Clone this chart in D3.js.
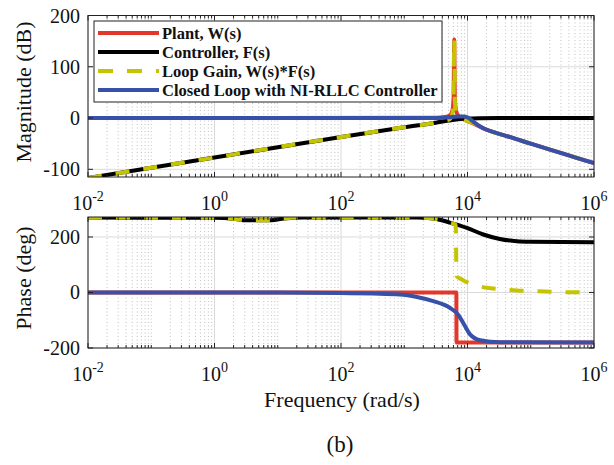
<!DOCTYPE html>
<html>
   <head>
      <script src = "https://d3js.org/d3.v7.min.js"></script>
      <title> Bode </title>
      <style>
          body { margin: 0; background: #fff; }
          .svg-style { display: block; }
          text { font-family: "Liberation Serif", "Times New Roman", serif; fill: #111; }
      </style>
   </head>
   <body>
      <script>
            // frequencies are stored as log10(w)
            var plantMag = [[-2, 0], [3.5, 0.5], [3.65, 2], [3.72, 5], [3.76, 14], [3.78, 40], [3.79, 153], [3.80, 40],
                            [3.82, 14], [3.86, 4], [3.93, -2], [4.0, -6], [4.1, -11], [4.25, -20], [4.45, -29],
                            [4.64, -36], [5, -50], [5.5, -69], [6, -88]];
            var ctrlMag = [[-2, -117], [0, -77], [2, -37], [3, -18], [3.5, -9], [3.7, -5], [3.85, -2.5], [4.0, -1],
                           [4.2, -0.3], [4.5, 0], [6, 0]];
            var loopMag = [[-2, -117], [0, -77], [2, -37], [3, -18], [3.5, -9], [3.65, -5], [3.72, -2], [3.76, 8],
                           [3.78, 35], [3.79, 153], [3.80, 35], [3.82, 8], [3.86, 0], [3.93, -3], [4.0, -6],
                           [4.1, -10], [4.25, -20], [4.45, -29], [4.64, -36], [5, -50], [5.5, -69], [6, -88]];
            var closedMag = [[-2, 0], [3.5, 0], [3.7, 1.5], [3.85, 3], [3.95, 3], [4.02, 0], [4.1, -8], [4.25, -20],
                             [4.45, -29], [4.64, -36], [5, -50], [5.5, -69], [6, -88]];

            var plantPhase = [[-2, 0], [3.824, 0], [3.826, -180], [6, -180]];
            var ctrlPhase = [[-2, 270], [0, 269], [0.3, 266], [0.5, 260], [0.9, 260], [1.1, 267], [1.4, 270],
                             [3.2, 270], [3.46, 267], [3.72, 252], [3.99, 233], [4.25, 209], [4.51, 193],
                             [4.78, 185], [5, 183], [6, 181]];
            var loopPhase = [[-2, 270], [0, 269], [0.3, 266], [0.5, 260], [0.9, 260], [1.1, 267], [1.4, 270],
                             [3.2, 270], [3.46, 267], [3.72, 252], [3.815, 244], [3.826, 60], [3.91, 47],
                             [4.14, 25], [4.30, 17], [4.56, 11], [4.78, 7], [5.0, 5], [5.5, 1.5], [6, 0]];
            var closedPhase = [[-2, 0], [1, 0], [2, -2], [2.5, -4], [2.93, -7], [3.2, -16], [3.46, -31], [3.72, -55],
                               [3.85, -79], [3.96, -121], [4.04, -151], [4.2, -172], [4.51, -179], [6, -180]];

            var xTicks = [1e-2, 1e0, 1e2, 1e4, 1e6];
            var magTicks = [-100, 0, 100, 200];
            var phaseTicks = [-200, 0, 200];
            var legendNames = ["Plant, W(s)", "Controller, F(s)", "Loop Gain, W(s)*F(s)", "Closed Loop with NI-RLLC Controller"];
            var colors = ["#e1382b", "#000000", "#c4c400", "#3751a8"];

            var width = 614, height = 465;
            var left = 88, right = 594;
            var svg = d3.select("body")
                .append("svg")
                .attr("width", width)
                .attr("height", height)
                .attr("class", "svg-style");

            var x = d3.scaleLog().domain([1e-2, 1e6]).range([left, right]);
            var yMag = d3.scaleLinear().domain([-115, 200]).range([177, 15.5]);
            var yPh = d3.scaleLinear().domain([-200, 272]).range([348, 217]);

            // minor log positions 1..9 in each decade
            var minor = [];
            d3.range(-2, 6).forEach(function(e) {
                d3.range(1, 10).forEach(function(m) {
                    var v = m * Math.pow(10, e);
                    if (xTicks.indexOf(v) < 0) minor.push(v);
                });
            });

            function panel(y, yTicks, series, id) {
                var top = y.range()[1], bot = y.range()[0];
                var g = svg.append("g");

                g.append("rect").attr("x", left).attr("y", top).attr("width", right - left).attr("height", bot - top)
                    .attr("fill", "#fff");

                // grid
                g.selectAll(".mg").data(minor).enter().append("line")
                    .attr("x1", function(d) { return x(d); }).attr("x2", function(d) { return x(d); })
                    .attr("y1", top).attr("y2", bot)
                    .attr("stroke", "#c2c2c2").attr("stroke-width", 1).attr("stroke-dasharray", "1,2.5");
                g.selectAll(".xg").data(xTicks).enter().append("line")
                    .attr("x1", function(d) { return x(d); }).attr("x2", function(d) { return x(d); })
                    .attr("y1", top).attr("y2", bot)
                    .attr("stroke", "#dadada").attr("stroke-width", 1);
                g.selectAll(".yg").data(yTicks).enter().append("line")
                    .attr("x1", left).attr("x2", right)
                    .attr("y1", function(d) { return y(d); }).attr("y2", function(d) { return y(d); })
                    .attr("stroke", "#dadada").attr("stroke-width", 1);

                // curves
                svg.append("clipPath").attr("id", id).append("rect")
                    .attr("x", left).attr("y", top).attr("width", right - left).attr("height", bot - top);
                var line = d3.line()
                    .x(function(d) { return x(Math.pow(10, d[0])); })
                    .y(function(d) { return y(d[1]); })
                    .curve(d3.curveMonotoneX);
                series.forEach(function(s, i) {
                    g.append("path")
                        .attr("d", line(s))
                        .attr("clip-path", "url(#" + id + ")")
                        .attr("fill", "none")
                        .attr("stroke", colors[i])
                        .attr("stroke-width", 4)
                        .attr("stroke-linejoin", "round")
                        .attr("stroke-dasharray", i == 2 ? "14,14" : null);
                });

                // ticks, inward on all sides
                [[top, 1], [bot, -1]].forEach(function(p) {
                    g.selectAll(null).data(minor).enter().append("line")
                        .attr("x1", function(d) { return x(d); }).attr("x2", function(d) { return x(d); })
                        .attr("y1", p[0]).attr("y2", p[0] + 3 * p[1])
                        .attr("stroke", "#222").attr("stroke-width", 1);
                    g.selectAll(null).data(xTicks).enter().append("line")
                        .attr("x1", function(d) { return x(d); }).attr("x2", function(d) { return x(d); })
                        .attr("y1", p[0]).attr("y2", p[0] + 5 * p[1])
                        .attr("stroke", "#222").attr("stroke-width", 1);
                });
                [[left, 1], [right, -1]].forEach(function(p) {
                    g.selectAll(null).data(yTicks).enter().append("line")
                        .attr("x1", p[0]).attr("x2", p[0] + 5 * p[1])
                        .attr("y1", function(d) { return y(d); }).attr("y2", function(d) { return y(d); })
                        .attr("stroke", "#222").attr("stroke-width", 1);
                });

                g.append("rect").attr("x", left).attr("y", top).attr("width", right - left).attr("height", bot - top)
                    .attr("fill", "none").attr("stroke", "#222").attr("stroke-width", 1);

                // tick labels
                g.selectAll(null).data(yTicks).enter().append("text")
                    .attr("x", left - 8).attr("y", function(d) { return y(d) + 7; })
                    .attr("text-anchor", "end").attr("font-size", 20)
                    .text(function(d) { return d; });
                var xl = g.selectAll(null).data(xTicks).enter().append("text")
                    .attr("x", function(d) { return x(d); }).attr("y", bot + 33)
                    .attr("text-anchor", "middle").attr("font-size", 20);
                xl.append("tspan").text("10");
                xl.append("tspan").attr("dy", -9).attr("font-size", 14)
                    .text(function(d) { return Math.round(Math.log10(d)); });
                return g;
            }

            panel(yMag, magTicks, [plantMag, ctrlMag, loopMag, closedMag], "clipMag");
            panel(yPh, phaseTicks, [plantPhase, ctrlPhase, loopPhase, closedPhase], "clipPh");

            // legend
            var leg = svg.append("g");
            leg.append("rect").attr("x", 94).attr("y", 21).attr("width", 348).attr("height", 81)
                .attr("fill", "#fff").attr("stroke", "#222").attr("stroke-width", 1);
            legendNames.forEach(function(name, i) {
                var ly = 33 + 19 * i;
                leg.append("line").attr("x1", 98).attr("x2", 159).attr("y1", ly).attr("y2", ly)
                    .attr("stroke", colors[i]).attr("stroke-width", 4)
                    .attr("stroke-dasharray", i == 2 ? "15,14" : null);
                leg.append("text").attr("x", 162).attr("y", ly + 5.5)
                    .attr("font-size", 16.5).attr("font-weight", "bold")
                    .text(name);
            });

            // axis labels
            svg.append("text").attr("transform", "translate(31,92) rotate(-90)")
                .attr("text-anchor", "middle").attr("font-size", 22).text("Magnitude (dB)");
            svg.append("text").attr("transform", "translate(31,278) rotate(-90)")
                .attr("text-anchor", "middle").attr("font-size", 22).text("Phase (deg)");
            svg.append("text").attr("x", 342).attr("y", 407)
                .attr("text-anchor", "middle").attr("font-size", 22).text("Frequency (rad/s)");
            svg.append("text").attr("x", 340).attr("y", 452)
                .attr("text-anchor", "middle").attr("font-size", 23).text("(b)");
      </script>
   </body>
</html>
